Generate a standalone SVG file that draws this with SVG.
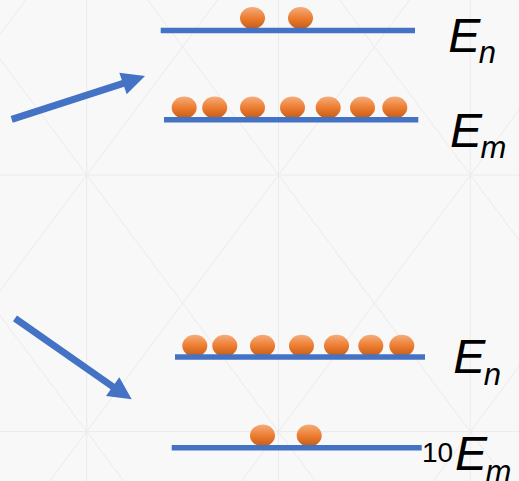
<svg xmlns="http://www.w3.org/2000/svg" width="519" height="481" viewBox="0 0 519 481">
<defs>
<linearGradient id="ballGrad" x1="0" y1="0" x2="0" y2="1">
<stop offset="0" stop-color="#F5AD7C"/>
<stop offset="0.5" stop-color="#ED7D31"/>
<stop offset="1" stop-color="#C45C16"/>
</linearGradient>
<style>
.bg-line{stroke:#ebebeb;stroke-width:1;fill:none}
.level{stroke:#4472C4;stroke-width:5.5;fill:none}
.ball{fill:url(#ballGrad)}
.shaft{stroke:#4472C4;stroke-width:7;fill:none}
.head{fill:#4472C4}
.lbl{font-family:"Liberation Sans",Arial,sans-serif;font-style:italic;font-size:48px;fill:#000}
.num{font-family:"Liberation Sans",Arial,sans-serif;font-size:28px;fill:#000}
</style>
</defs>
<rect x="0" y="0" width="519" height="481" fill="#f8f8f8"/>
<g id="background-pattern">
<line class="bg-line" x1="86.7" y1="0" x2="86.7" y2="481"/>
<line class="bg-line" x1="278.5" y1="0" x2="278.5" y2="481"/>
<line class="bg-line" x1="470.3" y1="0" x2="470.3" y2="481"/>
<line class="bg-line" x1="0" y1="175" x2="519" y2="175"/>
<line class="bg-line" x1="0" y1="431.6" x2="519" y2="431.6"/>
<line class="bg-line" x1="-303.2" y1="-90" x2="182.7" y2="560"/>
<line class="bg-line" x1="-111.4" y1="-90" x2="374.5" y2="560"/>
<line class="bg-line" x1="80.4" y1="-90" x2="566.3" y2="560"/>
<line class="bg-line" x1="272.2" y1="-90" x2="758.1" y2="560"/>
<line class="bg-line" x1="464" y1="-90" x2="949.9" y2="560"/>
<line class="bg-line" x1="93" y1="-90" x2="-392.9" y2="560"/>
<line class="bg-line" x1="284.8" y1="-90" x2="-201.1" y2="560"/>
<line class="bg-line" x1="476.6" y1="-90" x2="-9.3" y2="560"/>
<line class="bg-line" x1="668.4" y1="-90" x2="182.5" y2="560"/>
<line class="bg-line" x1="860.2" y1="-90" x2="374.3" y2="560"/>
</g>
<g id="top-level-n">
<ellipse class="ball" cx="252.5" cy="18" rx="12.5" ry="11"/>
<ellipse class="ball" cx="300.5" cy="18" rx="12.5" ry="11"/>
<line class="level" x1="160.7" y1="30.5" x2="415" y2="30.5"/>
<text class="lbl" x="448.2" y="51.7">E<tspan font-size="31" dx="-1.5" dy="11.6">n</tspan></text>
</g>
<g id="top-level-m">
<ellipse class="ball" cx="184.2" cy="107.5" rx="12.5" ry="11"/>
<ellipse class="ball" cx="214.7" cy="107.5" rx="12.5" ry="11"/>
<ellipse class="ball" cx="252.5" cy="107.5" rx="12.5" ry="11"/>
<ellipse class="ball" cx="292.5" cy="107.5" rx="12.5" ry="11"/>
<ellipse class="ball" cx="328.2" cy="107.5" rx="12.5" ry="11"/>
<ellipse class="ball" cx="362.5" cy="107.5" rx="12.5" ry="11"/>
<ellipse class="ball" cx="394.8" cy="107.5" rx="12.5" ry="11"/>
<line class="level" x1="164" y1="119.7" x2="418.3" y2="119.7"/>
<text class="lbl" x="449.9" y="146.7">E<tspan font-size="31" dx="-1.5" dy="11.6">m</tspan></text>
</g>
<g id="bottom-level-n">
<ellipse class="ball" cx="194.8" cy="345.7" rx="12.5" ry="11"/>
<ellipse class="ball" cx="224.8" cy="345.7" rx="12.5" ry="11"/>
<ellipse class="ball" cx="262.5" cy="345.7" rx="12.5" ry="11"/>
<ellipse class="ball" cx="301.5" cy="345.7" rx="12.5" ry="11"/>
<ellipse class="ball" cx="336.5" cy="345.7" rx="12.5" ry="11"/>
<ellipse class="ball" cx="370.8" cy="345.7" rx="12.5" ry="11"/>
<ellipse class="ball" cx="401.8" cy="345.7" rx="12.5" ry="11"/>
<line class="level" x1="175" y1="357" x2="425" y2="357"/>
<text class="lbl" x="453.2" y="373.3">E<tspan font-size="31" dx="-1.5" dy="11.6">n</tspan></text>
</g>
<g id="bottom-level-m">
<ellipse class="ball" cx="262.5" cy="435.5" rx="12.5" ry="11"/>
<ellipse class="ball" cx="309.2" cy="435.5" rx="12.5" ry="11"/>
<line class="level" x1="171.7" y1="447.8" x2="421.7" y2="447.8"/>
<text class="num" x="422" y="461.7">10</text>
<text class="lbl" x="454.9" y="470">E<tspan font-size="31" dx="-1.5" dy="11.6">m</tspan></text>
</g>
<g id="connectors">
<line class="shaft" x1="11.7" y1="119.3" x2="124" y2="83.2"/>
<polygon class="head" points="145,76 119.3,72.7 126.7,94.3"/>
<line class="shaft" x1="15" y1="318.3" x2="114" y2="387.5"/>
<polygon class="head" points="131.7,399.3 119.3,377.3 106,396"/>
</g>
</svg>
